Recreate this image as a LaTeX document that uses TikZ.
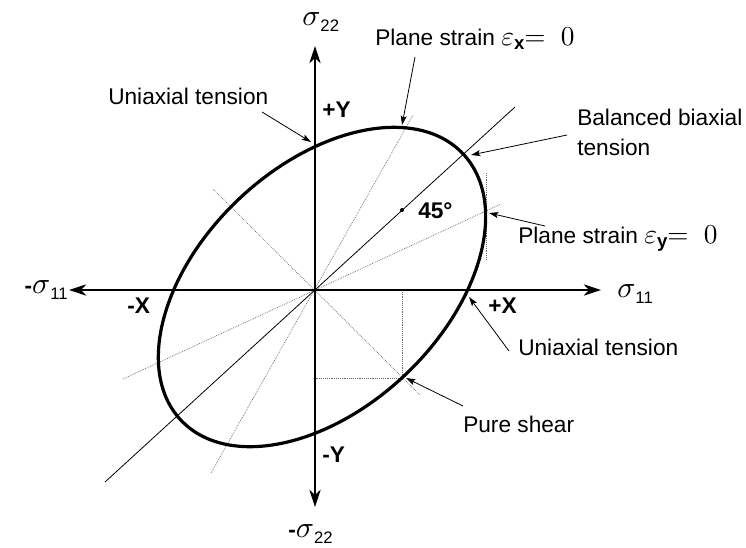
\documentclass[tikz,border=0pt]{standalone}
\usepackage{graphicx}
\usepackage[no-math]{fontspec}
\setmainfont{Liberation Sans}
\usetikzlibrary{arrows.meta}
\newcommand\sgm[1]{\scalebox{2.25}{\fontsize{10}{12}\selectfont$\sigma$}\raisebox{-5pt}{\fontsize{12.5}{15}\selectfont #1}}
\newcommand\epsq[1]{\scalebox{2.05}{\fontsize{10}{12}\selectfont$\varepsilon$}\raisebox{-3.5pt}{\fontsize{14}{16}\selectfont\bfseries #1}\scalebox{2.05}{\fontsize{10}{12}\selectfont$=\;0$}}
\begin{document}
\begin{tikzpicture}[x=0.75pt,y=-0.75pt,
  axis/.style={line width=0.8pt,{Stealth[length=13pt,width=8.5pt,inset=4pt]}-{Stealth[length=13pt,width=8.5pt,inset=4pt]}},
  leader/.style={line width=0.6pt,-{Stealth[length=7pt,width=4.5pt,inset=1.5pt]}},
  guide/.style={black!60,line width=0.5pt,dash pattern=on 0.6pt off 0.8pt},
  thinline/.style={line width=0.6pt},
  curve/.style={line width=2.4pt},
  lab/.style={font=\fontsize{17}{20}\selectfont,inner sep=0pt},
  blab/.style={font=\fontsize{17}{20}\selectfont\bfseries,inner sep=0pt}]
\fill[white] (0,0) rectangle (746,547);
\useasboundingbox (0,0) rectangle (746,547);
% key points
\coordinate (O) at (315,290);
\coordinate (E) at (322,287);
\coordinate (xr) at (601,290);
\coordinate (xl) at (69,290);
\coordinate (yt) at (315,46);
\coordinate (yb) at (315,507);
% guide lines
\coordinate (gy1) at (123,379); \coordinate (gy2) at (501,204);
\coordinate (gx1) at (211,473); \coordinate (gx2) at (413,115);
\coordinate (gs1) at (213,189); \coordinate (gs2) at (420,395);
\coordinate (ps) at (402,378);
\coordinate (psx) at (402,290);
\coordinate (psy) at (315,378);
\coordinate (tg1) at (486,173); \coordinate (tg2) at (486,259);
\draw[guide] (gy1) -- (gy2);
\draw[guide] (gx1) -- (gx2);
\draw[guide] (gs1) -- (gs2);
\draw[guide] (psx) -- (ps) -- (psy);
\draw[guide] (tg1) -- (tg2);
% major axis line
\coordinate (ma1) at (105,482); \coordinate (ma2) at (515,107);
\draw[thinline] (ma1) -- (ma2);
\fill (402,210) coordinate (dot) circle (1.5pt);
% axes
\draw[axis] (xl) -- (xr);
\draw[axis] (yb) -- (yt);
% ellipse
\draw[curve,rotate around={43.4:(E)}] (E) ellipse [x radius=194, y radius=121];
% axis labels
\node[lab,anchor=base west] (s22) at (302,25) {\sgm{22}};
\node[lab,anchor=base west] (s11) at (617,297) {\sgm{11}};
\node[lab,anchor=base east] (ms11) at (68,293) {\textbf{-}\sgm{11}};
\node[lab,anchor=base west] (ms22) at (288,537) {\textbf{-}\sgm{22}};
\node[blab,anchor=base west] (py) at (322,117) {+Y};
\node[blab,anchor=base west] (my) at (322,462) {-Y};
\node[blab,anchor=base west] (px) at (488,313) {+X};
\node[blab,anchor=base west] (mx) at (127,313) {-X};
\node[blab,anchor=base west] (ang) at (418,218) {45°};
% annotations
\node[lab,anchor=base west] (ut1) at (108,104) {Uniaxial tension};
\node[lab,anchor=base west] (pex) at (375,45) {Plane strain \epsq{x}};
\node[lab,anchor=base west] (bb1) at (577,125) {Balanced biaxial};
\node[lab,anchor=base west] (bb2) at (577,155) {tension};
\node[lab,anchor=base west] (pey) at (518,243) {Plane strain \epsq{y}};
\node[lab,anchor=base west] (ut2) at (518,355) {Uniaxial tension};
\node[lab,anchor=base west] (psl) at (463,432) {Pure shear};
% leaders
\coordinate (l1s) at (262,112); \coordinate (l1t) at (311,142);
\coordinate (l2s) at (415,57);  \coordinate (l2t) at (402,125);
\coordinate (l3s) at (567,135); \coordinate (l3t) at (471,155);
\coordinate (l4s) at (545,226); \coordinate (l4t) at (489,213);
\coordinate (l5s) at (509,351); \coordinate (l5t) at (469,297);
\coordinate (l6s) at (463,406); \coordinate (l6t) at (406,378);
\draw[leader] (l1s) -- (l1t);
\draw[leader] (l2s) -- (l2t);
\draw[leader] (l3s) -- (l3t);
\draw[leader] (l4s) -- (l4t);
\draw[leader] (l5s) -- (l5t);
\draw[leader] (l6s) -- (l6t);
\end{tikzpicture}
\end{document}
